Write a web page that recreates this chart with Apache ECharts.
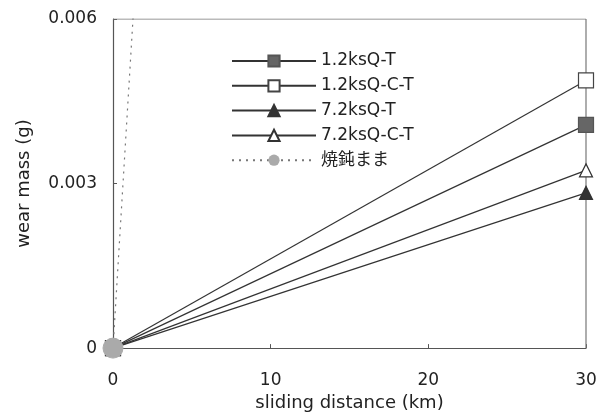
<!DOCTYPE html>
<html><head><meta charset="utf-8">
<script src="https://cdn.jsdelivr.net/npm/echarts@6/dist/echarts.min.js"></script>
<style>html,body{margin:0;padding:0;background:#fff}#c{width:611px;height:417px}</style>
</head><body><div id="c"></div>
<script>
const distance = [0, 30];
const s12T = [0, 0.00407];
const s12CT = [0, 0.00488];
const s72T = [0, 0.00283];
const s72CT = [0, 0.00324];
const annealed = [0, 0.142];
const names = ['1.2ksQ-T', '1.2ksQ-C-T', '7.2ksQ-T', '7.2ksQ-C-T', '焼鈍まま'];
const xTicks = [0, 10, 20, 30];
const yTicks = [0, 0.003, 0.006];

const pair = arr => distance.map((d, i) => [d, arr[i]]);
const font = '"DejaVu Sans", "Noto Sans CJK JP", sans-serif';
const chart = echarts.init(document.getElementById('c'));
const lineBase = (name, data, symbol, size, fill, stroke) => ({
  name, type: 'line', data: pair(data), symbol, symbolSize: size,
  lineStyle: { color: '#333', width: 1.2 },
  itemStyle: { color: fill, borderColor: stroke, borderWidth: 1.2 },
  showSymbol: true, clip: true, z: 3
});
chart.setOption({
  animation: false,
  textStyle: { fontFamily: font },
  grid: { left: 113, right: 25, top: 19, bottom: 63 },
  legend: {
    orient: 'vertical', left: 226, top: 47, itemWidth: 84, itemHeight: 14, itemGap: 6.8,
    textStyle: { fontSize: 17, lineHeight: 18, color: '#222', fontFamily: font },
    data: names
  },
  xAxis: {
    type: 'value', min: 0, max: 30, interval: 10,
    name: 'sliding distance (km)', nameLocation: 'middle', nameGap: 44,
    nameTextStyle: { fontSize: 18, color: '#222' },
    axisLine: { lineStyle: { color: '#555', width: 1.2 } },
    axisTick: { inside: true, length: 4, lineStyle: { color: '#555' } },
    axisLabel: { fontSize: 17, color: '#222', margin: 24 },
    splitLine: { show: false }
  },
  yAxis: {
    type: 'value', min: 0, max: 0.006, interval: 0.003,
    name: 'wear mass (g)', nameLocation: 'middle', nameGap: 80,
    nameTextStyle: { fontSize: 18, color: '#222' },
    axisLine: { lineStyle: { color: '#555', width: 1.2 } },
    axisTick: { inside: true, length: 4, lineStyle: { color: '#555' } },
    axisLabel: { fontSize: 17, color: '#222', margin: 16, formatter: v => v === 0 ? '0' : v.toFixed(3) },
    splitLine: { show: false }
  },
  series: [
    lineBase(names[0], s12T, 'rect', 15, '#666', '#555'),
    lineBase(names[1], s12CT, 'rect', 15, '#fff', '#444'),
    lineBase(names[2], s72T, 'triangle', 13, '#333', '#333'),
    lineBase(names[3], s72CT, 'triangle', 13, '#fff', '#333'),
    {
      name: names[4], type: 'line', data: pair(annealed), symbol: 'circle', symbolSize: 20,
      lineStyle: { color: '#777', width: 1.2, type: [2, 5] },
      itemStyle: { color: '#aaa', borderColor: '#aaa' }, clip: true, z: 5
    },
    {
      type: 'line', data: [[30, 0], [30, 0.006]], symbol: 'none', silent: true,
      lineStyle: { color: '#777', width: 1.2 }, z: 1
    },
    {
      type: 'line', data: [[0, 0.006], [30, 0.006]], symbol: 'none', silent: true,
      lineStyle: { color: '#777', width: 1.2 }, z: 1
    }
  ]
});
</script></body></html>
